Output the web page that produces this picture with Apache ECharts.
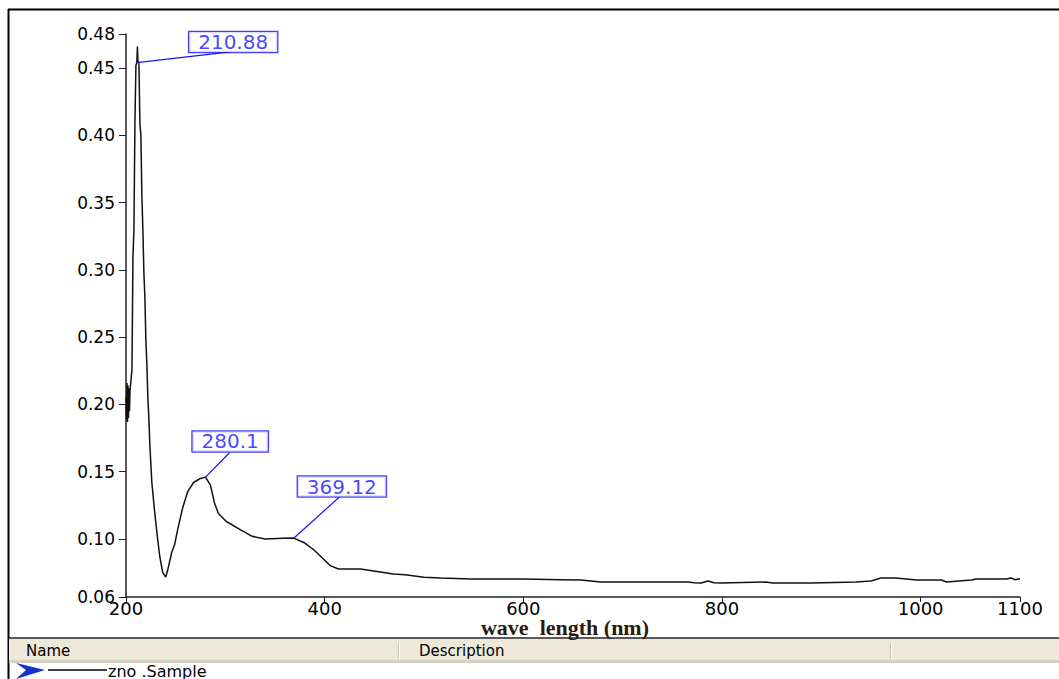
<!DOCTYPE html>
<html>
<head>
<meta charset="utf-8">
<title>zno .Sample</title>
<script src="https://cdn.jsdelivr.net/npm/echarts@6/dist/echarts.min.js"></script>
<style>
  html, body { margin: 0; padding: 0; background: #fff; }
  #chart { width: 1059px; height: 679px; }
</style>
</head>
<body>
<div id="chart"></div>
<script>
// spectrum
const wavelength = [200, 200.5, 201, 201.5, 202, 202.5, 203, 203.5, 204, 205, 206, 207, 208, 209, 210, 210.88, 211.5, 212, 213, 214,
  215, 216, 217, 218, 219, 220, 221, 222, 223, 224, 226, 229, 232, 234, 237, 240, 242, 246, 249, 252,
  257, 262, 268, 275, 280, 285, 289, 293, 301, 315, 327, 340, 358, 369, 380, 389, 399, 406, 414, 436,
  456, 469, 481, 500, 517, 547, 577, 600, 638, 658, 678, 700, 766, 772, 779, 786, 792, 799, 844, 851,
  890, 935, 950, 960, 975, 996, 1021, 1026, 1051, 1056, 1086, 1091, 1095, 1100]
const absorbance = [0.205, 0.188, 0.216, 0.187, 0.214, 0.19, 0.212, 0.195, 0.21, 0.218, 0.226, 0.31, 0.33, 0.41, 0.452, 0.454, 0.466, 0.455, 0.454, 0.409,
  0.40, 0.354, 0.33, 0.298, 0.28, 0.248, 0.23, 0.205, 0.19, 0.17, 0.142, 0.119, 0.099, 0.087, 0.075, 0.0718, 0.077, 0.09, 0.096, 0.107,
  0.123, 0.135, 0.142, 0.145, 0.146, 0.140, 0.127, 0.119, 0.113, 0.107, 0.102, 0.100, 0.1005, 0.1007, 0.097, 0.092, 0.085, 0.080, 0.0777, 0.0777,
  0.0755, 0.074, 0.0735, 0.0715, 0.071, 0.0703, 0.0703, 0.0703, 0.0698, 0.0695, 0.068, 0.068, 0.068, 0.0675, 0.0673, 0.0688, 0.0675, 0.0673, 0.068, 0.0673,
  0.0673, 0.068, 0.0688, 0.071, 0.071, 0.0695, 0.0695, 0.068, 0.0695, 0.0703, 0.0703, 0.071, 0.0698, 0.0705]

// axis ticks
const xTicks = [200, 400, 600, 800, 1000, 1100]
const yMin = 0.0569
const yMax = 0.4753
const yTicks = [yMin, 0.10, 0.15, 0.20, 0.25, 0.30, 0.35, 0.40, 0.45, yMax]

// peak labels
const peakNames = ['210.88', '280.1', '369.12']
const peakX = [210.88, 280.1, 369.12]
const peakY = [0.454, 0.146, 0.1007]
const boxX = [307.9, 304.9, 417.3]
const boxY = [0.4693, 0.1725, 0.139]
const leaderX = [302.9, 303.9, 414.8]
const leaderY = [0.4619, 0.1639, 0.1312]

const chart = echarts.init(document.getElementById('chart'), null, { renderer: 'svg' })

const blue = '#1414ff'

chart.setOption({
  animation: false,
  backgroundColor: '#fff',
  grid: { left: 126, right: 39, top: 34, bottom: 82 },
  xAxis: {
    type: 'value',
    min: 200,
    max: 1100,
    name: 'wave  length (nm)',
    nameLocation: 'middle',
    nameGap: 21,
    nameMoveOverlap: false,
    nameTextStyle: {
      fontFamily: 'Liberation Serif',
      fontSize: 22,
      lineHeight: 18,
      fontWeight: 'bold',
      color: '#2a1a0e',
      padding: [0, 16, 0, 0]
    },
    axisLine: { show: true, onZero: false, lineStyle: { color: '#222', width: 1.5 } },
    axisTick: { show: true, length: 5, customValues: xTicks, lineStyle: { color: '#222' } },
    axisLabel: {
      customValues: xTicks,
      margin: 3,
      fontFamily: 'DejaVu Sans',
      fontSize: 18,
      lineHeight: 16,
      color: '#000',
      formatter: v => String(v)
    },
    splitLine: { show: false }
  },
  yAxis: {
    type: 'value',
    min: yMin,
    max: yMax,
    axisLine: { show: true, onZero: false, lineStyle: { color: '#222', width: 1.5 } },
    axisTick: { show: true, length: 7, customValues: yTicks, lineStyle: { color: '#222' } },
    axisLabel: {
      customValues: yTicks,
      margin: 11,
      fontFamily: 'DejaVu Sans',
      fontSize: 17,
      color: '#000',
      formatter: v => v.toFixed(2)
    },
    splitLine: { show: false }
  },
  series: [
    {
      name: 'zno .Sample',
      type: 'line',
      data: wavelength.map((w, i) => [w, absorbance[i]]),
      showSymbol: false,
      symbol: 'none',
      lineStyle: { color: '#111', width: 1.5 },
      z: 3
    },
    {
      // leader lines from the peaks to their boxes
      type: 'lines',
      coordinateSystem: 'cartesian2d',
      polyline: false,
      data: peakX.map((x, i) => ({ coords: [[x, peakY[i]], [leaderX[i], leaderY[i]]] })),
      lineStyle: { color: blue, width: 1.2, opacity: 1 },
      z: 4
    },
    {
      type: 'scatter',
      data: boxX.map((x, i) => [x, boxY[i], peakNames[i]]),
      symbolSize: 1,
      itemStyle: { color: 'rgba(0,0,0,0)' },
      label: {
        show: true,
        position: 'inside',
        formatter: p => p.data[2],
        fontFamily: 'DejaVu Sans',
        fontSize: 20,
        lineHeight: 18,
        color: blue,
        backgroundColor: '#fff',
        borderColor: blue,
        borderWidth: 1.3,
        padding: [1, 9]
      },
      z: 5
    }
  ],
  graphic: [
    // outer frame
    { type: 'line', shape: { x1: 8, y1: 9.5, x2: 1059, y2: 9.5 }, style: { stroke: '#000', lineWidth: 2 } },
    { type: 'line', shape: { x1: 8.5, y1: 9, x2: 8.5, y2: 679 }, style: { stroke: '#000', lineWidth: 2 } },
    // table header below the plot
    { type: 'rect', shape: { x: 9, y: 639, width: 1050, height: 22 }, style: { fill: '#ECE9D8' } },
    { type: 'rect', shape: { x: 9, y: 660, width: 1050, height: 3 }, style: { fill: '#D6D2C2' } },
    { type: 'line', shape: { x1: 8, y1: 638, x2: 1059, y2: 638 }, style: { stroke: '#222', lineWidth: 1.5 } },
    { type: 'rect', shape: { x: 398, y: 642, width: 1, height: 16 }, style: { fill: '#C5C1B0' } },
    { type: 'rect', shape: { x: 399, y: 642, width: 1, height: 16 }, style: { fill: '#fff' } },
    { type: 'rect', shape: { x: 890, y: 642, width: 1, height: 16 }, style: { fill: '#C5C1B0' } },
    { type: 'rect', shape: { x: 891, y: 642, width: 1, height: 16 }, style: { fill: '#fff' } },
    {
      type: 'text', x: 26, y: 651,
      style: { text: 'Name', fontFamily: 'DejaVu Sans', fontSize: 15, fill: '#000', verticalAlign: 'middle' }
    },
    {
      type: 'text', x: 419, y: 651,
      style: { text: 'Description', fontFamily: 'DejaVu Sans', fontSize: 15, fill: '#000', verticalAlign: 'middle' }
    },
    // legend row
    {
      type: 'polygon',
      shape: { points: [[16, 663], [45, 670], [16, 679], [26, 670]] },
      style: { fill: '#1434c8' }
    },
    { type: 'line', shape: { x1: 48, y1: 670, x2: 107, y2: 670 }, style: { stroke: '#000', lineWidth: 1.5 } },
    {
      type: 'text', x: 108, y: 671,
      style: { text: 'zno .Sample', fontFamily: 'DejaVu Sans', fontSize: 16, fill: '#000', verticalAlign: 'middle' }
    }
  ]
})
</script>
</body>
</html>
